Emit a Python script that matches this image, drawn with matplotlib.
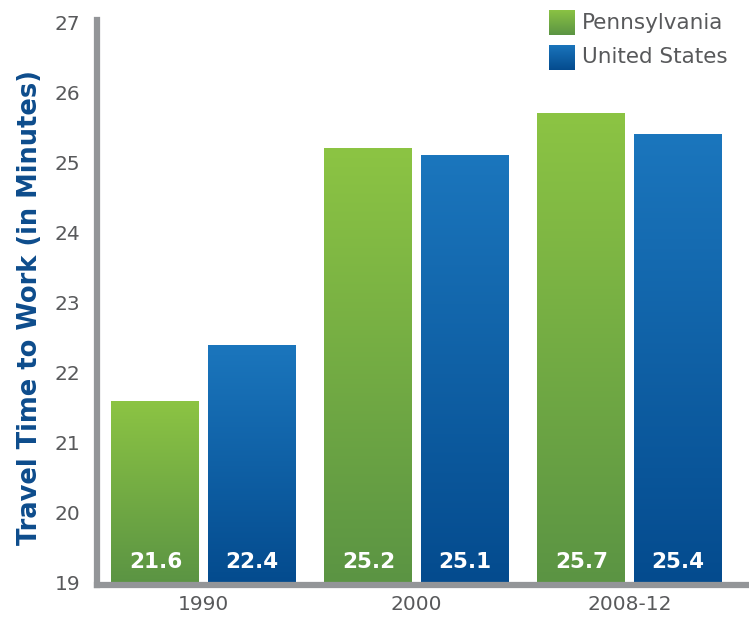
import numpy as np
import matplotlib
matplotlib.use('Agg')
import matplotlib.pyplot as plt
from matplotlib.colors import LinearSegmentedColormap

periods = ['1990', '2000', '2008-12']
series = ['Pennsylvania', 'United States']
pa_minutes = [21.6, 25.2, 25.7]
us_minutes = [22.4, 25.1, 25.4]
y_ticks = [19, 20, 21, 22, 23, 24, 25, 26, 27]

# top -> bottom gradient colours for each series
green = LinearSegmentedColormap.from_list('pa', ['#5b9444', '#8cc443'])
blue = LinearSegmentedColormap.from_list('us', ['#044b8e', '#1b76bd'])
gray = '#939598'
text_gray = '#58595b'

base = 19
width = 0.413
offset = 0.2255

fig = plt.figure(figsize=(7.49, 6.18), dpi=100)
ax = fig.add_axes([0.1295, 0.0534, 0.8665, 0.9142])

grad = np.linspace(0, 1, 256).reshape(-1, 1)
x = np.arange(len(periods))
for vals, cmap, dx in [(pa_minutes, green, -offset), (us_minutes, blue, offset)]:
    heights = [v - base for v in vals]
    bars = ax.bar(x + dx, heights, width, bottom=base, color='none', edgecolor='none')
    for b, v in zip(bars, vals):
        x0, w, h = b.get_x(), b.get_width(), b.get_height()
        im = ax.imshow(grad, extent=[x0, x0 + w, base, base + h], origin='lower',
                       aspect='auto', cmap=cmap, zorder=2)
        im.set_clip_path(b)
        ax.text(x0 + w / 2, 19.3, f'{v:.1f}', ha='center', va='center',
                color='white', fontsize=15.5, fontweight='bold', zorder=3)

ax.set_xlim(-0.5, 2.547)
ax.set_ylim(18.97, 27.03)
ax.set_yticks(y_ticks)
ax.set_xticks(x)
ax.set_xticklabels(periods)
ax.tick_params(length=0, labelsize=14.5, labelcolor=text_gray)
ax.tick_params(axis='y', pad=12)
ax.tick_params(axis='x', pad=7)

for s in ['top', 'right']:
    ax.spines[s].set_visible(False)
for s in ['left', 'bottom']:
    ax.spines[s].set_color(gray)
    ax.spines[s].set_linewidth(4.5)
    ax.spines[s].set_capstyle('projecting')

fig.text(0.04, 0.502, 'Travel Time to Work (in Minutes)', rotation=90,
         ha='center', va='center', fontsize=18.5, fontweight='bold', color='#0d4c8c')

# legend swatches with the same gradients
for i, (name, cmap) in enumerate([(series[0], green), (series[1], blue)]):
    bottom = 0.943 - i * 0.056
    sw = fig.add_axes([0.733, bottom, 0.0347, 0.0405])
    sw.imshow(grad, origin='lower', aspect='auto', cmap=cmap)
    sw.axis('off')
    fig.text(0.777, bottom + 0.0203, name, ha='left', va='center',
             fontsize=15.5, color=text_gray)

fig.savefig('out.png', dpi=100)
